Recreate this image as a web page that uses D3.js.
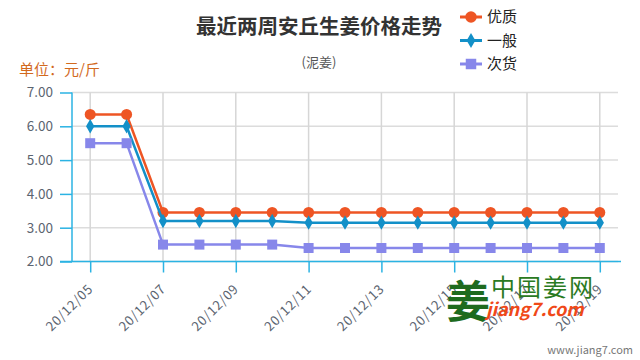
<!DOCTYPE html>
<html lang="zh">
  <head>
    <meta charset="UTF-8" />
    <title>最近两周安丘生姜价格走势</title>
    <script src="https://d3js.org/d3.v7.min.js"></script>
    <style>
      body { margin: 0; background: #fff; }
      text { font-family: "Noto Sans CJK SC", "DejaVu Sans", sans-serif; }
    </style>
  </head>
  <body>
    <svg width="640" height="360"></svg>
    <script>
      // data
      var dates = ["20/12/05", "20/12/06", "20/12/07", "20/12/08", "20/12/09", "20/12/10", "20/12/11",
        "20/12/12", "20/12/13", "20/12/14", "20/12/15", "20/12/16", "20/12/17", "20/12/18", "20/12/19"];
      var youzhi = [6.35, 6.35, 3.45, 3.45, 3.45, 3.45, 3.45, 3.45, 3.45, 3.45, 3.45, 3.45, 3.45, 3.45, 3.45];
      var yiban = [6.0, 6.0, 3.2, 3.2, 3.2, 3.2, 3.15, 3.15, 3.15, 3.15, 3.15, 3.15, 3.15, 3.15, 3.15];
      var cihuo = [5.5, 5.5, 2.5, 2.5, 2.5, 2.5, 2.4, 2.4, 2.4, 2.4, 2.4, 2.4, 2.4, 2.4, 2.4];
      var yTicks = [2, 3, 4, 5, 6, 7];

      var series = [
        { name: "优质", values: youzhi, color: "#ee5524", shape: d3.symbolCircle, size: 95 },
        { name: "一般", values: yiban, color: "#1390c8", shape: d3.symbolDiamond, size: 60 },
        { name: "次货", values: cihuo, color: "#8787ea", shape: d3.symbolSquare, size: 100 }
      ];

      var svg = d3.select("svg");
      var plotLeft = 72, plotRight = 618, plotTop = 92.5, plotBottom = 261.5;
      var axisColor = "#2bb3e3";

      var x = d3.scalePoint().domain(dates).range([plotLeft, plotRight]).padding(0.5);
      var y = d3.scaleLinear().domain([2, 7]).range([plotBottom, plotTop]);

      // horizontal grid
      svg.append("g")
        .selectAll("line")
        .data(yTicks)
        .enter()
        .append("line")
        .attr("x1", plotLeft).attr("x2", plotRight)
        .attr("y1", function (d) { return y(d); })
        .attr("y2", function (d) { return y(d); })
        .attr("stroke", "#dcdcdc").attr("stroke-width", 1.5);

      // vertical grid on every other date
      var labelled = dates.filter(function (d, i) { return i % 2 === 0; });
      svg.append("g")
        .selectAll("line")
        .data(labelled)
        .enter()
        .append("line")
        .attr("x1", function (d) { return x(d); })
        .attr("x2", function (d) { return x(d); })
        .attr("y1", plotTop).attr("y2", plotBottom)
        .attr("stroke", "#d6d6d6").attr("stroke-width", 1.5);

      // y axis
      var yAxis = svg.append("g")
        .attr("transform", "translate(" + plotLeft + ",0)")
        .call(d3.axisLeft(y).tickValues(yTicks).tickSize(12).tickPadding(7)
          .tickFormat(d3.format(".2f")));
      yAxis.select(".domain").remove();
      yAxis.append("line").attr("x1", 0).attr("x2", 0).attr("y1", plotTop).attr("y2", plotBottom)
        .attr("stroke", axisColor).attr("stroke-width", 1.5);
      yAxis.selectAll(".tick line").attr("stroke", axisColor).attr("stroke-width", 1.5);
      yAxis.selectAll(".tick text").attr("fill", "#5b6470").attr("font-size", "13.5px")
        .attr("font-family", "DejaVu Sans, sans-serif");

      // x axis
      var xAxis = svg.append("g")
        .attr("transform", "translate(0," + plotBottom + ")")
        .call(d3.axisBottom(x).tickValues(labelled).tickSize(11).tickPadding(4));
      xAxis.select(".domain").remove();
      xAxis.append("line").attr("x1", 60).attr("x2", 621).attr("y1", 0).attr("y2", 0)
        .attr("stroke", axisColor).attr("stroke-width", 1.5);
      xAxis.selectAll(".tick line").attr("stroke", axisColor).attr("stroke-width", 1.5);
      xAxis.selectAll(".tick text")
        .attr("fill", "#5b6470").attr("font-size", "13px")
        .attr("font-family", "DejaVu Sans, sans-serif")
        .attr("letter-spacing", "0.8px")
        .attr("text-anchor", "end")
        .attr("y", 0)
        .attr("dy", "0.35em")
        .attr("transform", "translate(0,25) rotate(-45)");

      // lines and markers
      var line = d3.line()
        .x(function (d, i) { return x(dates[i]); })
        .y(function (d) { return y(d); });

      series.forEach(function (s) {
        svg.append("path")
          .attr("d", line(s.values))
          .attr("fill", "none")
          .attr("stroke", s.color)
          .attr("stroke-width", 2.5);
        svg.append("g")
          .selectAll("path")
          .data(s.values)
          .enter()
          .append("path")
          .attr("d", d3.symbol().type(s.shape).size(s.size))
          .attr("transform", function (d, i) {
            return "translate(" + x(dates[i]) + "," + y(d) + ")";
          })
          .attr("fill", s.color);
      });

      // titles
      svg.append("text").attr("x", 319).attr("y", 34).attr("text-anchor", "middle")
        .attr("font-size", "20.5px").attr("font-weight", "bold").attr("fill", "#333")
        .text("最近两周安丘生姜价格走势");
      svg.append("text").attr("x", 319).attr("y", 67).attr("text-anchor", "middle")
        .attr("font-size", "13px").attr("fill", "#555")
        .text("(泥姜)");
      svg.append("text").attr("x", 19).attr("y", 75)
        .attr("font-size", "15px").attr("fill", "#d2691e")
        .text("单位：元/斤");

      // legend
      var legend = svg.append("g").attr("transform", "translate(460,17)");
      series.forEach(function (s, i) {
        var row = legend.append("g").attr("transform", "translate(0," + i * 23.5 + ")");
        row.append("line").attr("x1", 0).attr("x2", 22).attr("stroke", s.color).attr("stroke-width", 3);
        row.append("path").attr("d", d3.symbol().type(s.shape).size(s.size * 1.1))
          .attr("transform", "translate(11,0)").attr("fill", s.color);
        row.append("text").attr("x", 27).attr("y", 0).attr("dy", "0.35em")
          .attr("font-size", "15px").attr("fill", "#222").text(s.name);
      });

      // watermark
      var mark = svg.append("g");
      mark.append("text").attr("x", 446).attr("y", 318)
        .attr("font-size", "44px").attr("font-weight", "bold").attr("fill", "#1e6b1e")
        .text("姜");
      mark.append("text").attr("x", 491).attr("y", 296)
        .attr("font-size", "24px").attr("letter-spacing", "2px").attr("fill", "#2a7a22")
        .text("中国姜网");
      mark.append("text").attr("x", 486).attr("y", 316)
        .attr("font-size", "18px").attr("font-weight", "bold").attr("font-style", "italic")
        .attr("font-family", "Liberation Sans, sans-serif").attr("fill", "#f04818")
        .text("jiang7.com");
      svg.append("text").attr("x", 633).attr("y", 354).attr("text-anchor", "end")
        .attr("font-size", "11px").attr("fill", "#777")
        .attr("font-family", "DejaVu Sans, sans-serif")
        .text("www.jiang7.com");
    </script>
  </body>
</html>
